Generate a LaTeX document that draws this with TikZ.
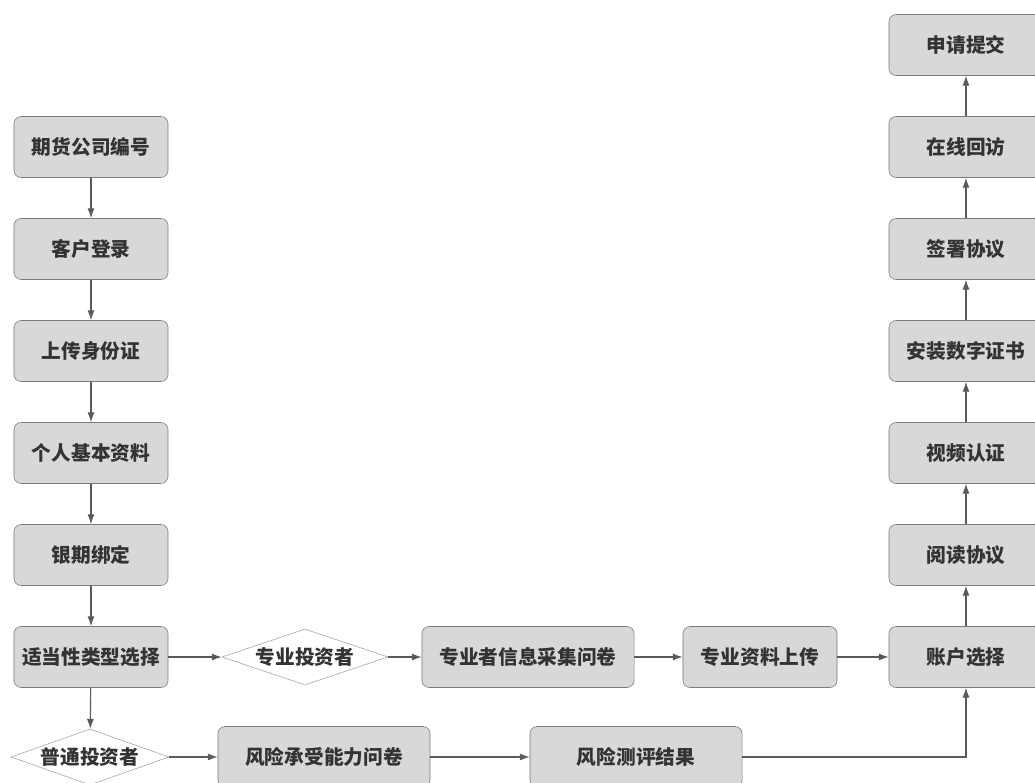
\documentclass[tikz,border=0pt]{standalone}
\usepackage{fontspec}
\setmainfont{Noto Sans CJK SC}
\usetikzlibrary{shapes.geometric,arrows.meta}
\definecolor{boxfill}{HTML}{D8D8D8}
\definecolor{boxline}{HTML}{7A7A7A}
\definecolor{txt}{HTML}{333333}
\definecolor{arr}{HTML}{5A5A5A}
\begin{document}
\begin{tikzpicture}[x=0.025cm,y=-0.025cm,
    stepbox/.style={draw=boxline,fill=boxfill,rounded corners=5pt,minimum width=3.85cm,minimum height=1.525cm,text=txt,font=\fontsize{14}{16}\selectfont\bfseries},
    widebox/.style={stepbox,minimum width=5.3cm},
    choice/.style={diamond,draw=boxline!70,fill=white,aspect=3,minimum width=4.15cm,minimum height=1.4cm,inner sep=0pt,text=txt,font=\fontsize{14}{16}\selectfont\bfseries},
    flow/.style={draw=arr,line width=0.8pt,-{Latex[length=7pt,width=5pt]}}]
    \useasboundingbox (0,0) rectangle (1035,783);
    %% left column
    \node[stepbox] (code) at (91,147) {期货公司编号};
    \node[stepbox] (login) at (91,249) {客户登录};
    \node[stepbox] (idcard) at (91,351) {上传身份证};
    \node[stepbox] (info) at (91,453) {个人基本资料};
    \node[stepbox] (bank) at (91,555) {银期绑定};
    \node[stepbox] (suit) at (91,657) {适当性类型选择};
    \draw[flow] (code) -- (login);
    \draw[flow] (login) -- (idcard);
    \draw[flow] (idcard) -- (info);
    \draw[flow] (info) -- (bank);
    \draw[flow] (bank) -- (suit);
    %% professional branch
    \node[choice] (pro) at (305,657) {专业投资者};
    \node[widebox] (proform) at (528,657) {专业者信息采集问卷};
    \node[stepbox] (proup) at (760,657) {专业资料上传};
    \node[stepbox] (acct) at (966,657) {账户选择};
    \draw[flow] (suit) -- (pro);
    \draw[flow] (pro) -- (proform);
    \draw[flow] (proform) -- (proup);
    \draw[flow] (proup) -- (acct);
    %% ordinary branch
    \node[choice,minimum width=3.95cm] (norm) at (90,757) {普通投资者};
    \node[widebox] (risk) at (324,757) {风险承受能力问卷};
    \node[widebox] (result) at (636,757) {风险测评结果};
    \draw[flow] (suit) -- (norm);
    \draw[flow] (norm) -- (risk);
    \draw[flow] (risk) -- (result);
    \draw[flow] (result.east) -| (acct.south);
    %% right column
    \node[stepbox] (read) at (966,555) {阅读协议};
    \node[stepbox] (video) at (966,453) {视频认证};
    \node[stepbox] (cert) at (966,351) {安装数字证书};
    \node[stepbox] (sign) at (966,249) {签署协议};
    \node[stepbox] (visit) at (966,147) {在线回访};
    \node[stepbox] (submit) at (966,45) {申请提交};
    \draw[flow] (acct) -- (read);
    \draw[flow] (read) -- (video);
    \draw[flow] (video) -- (cert);
    \draw[flow] (cert) -- (sign);
    \draw[flow] (sign) -- (visit);
    \draw[flow] (visit) -- (submit);
\end{tikzpicture}
\end{document}
